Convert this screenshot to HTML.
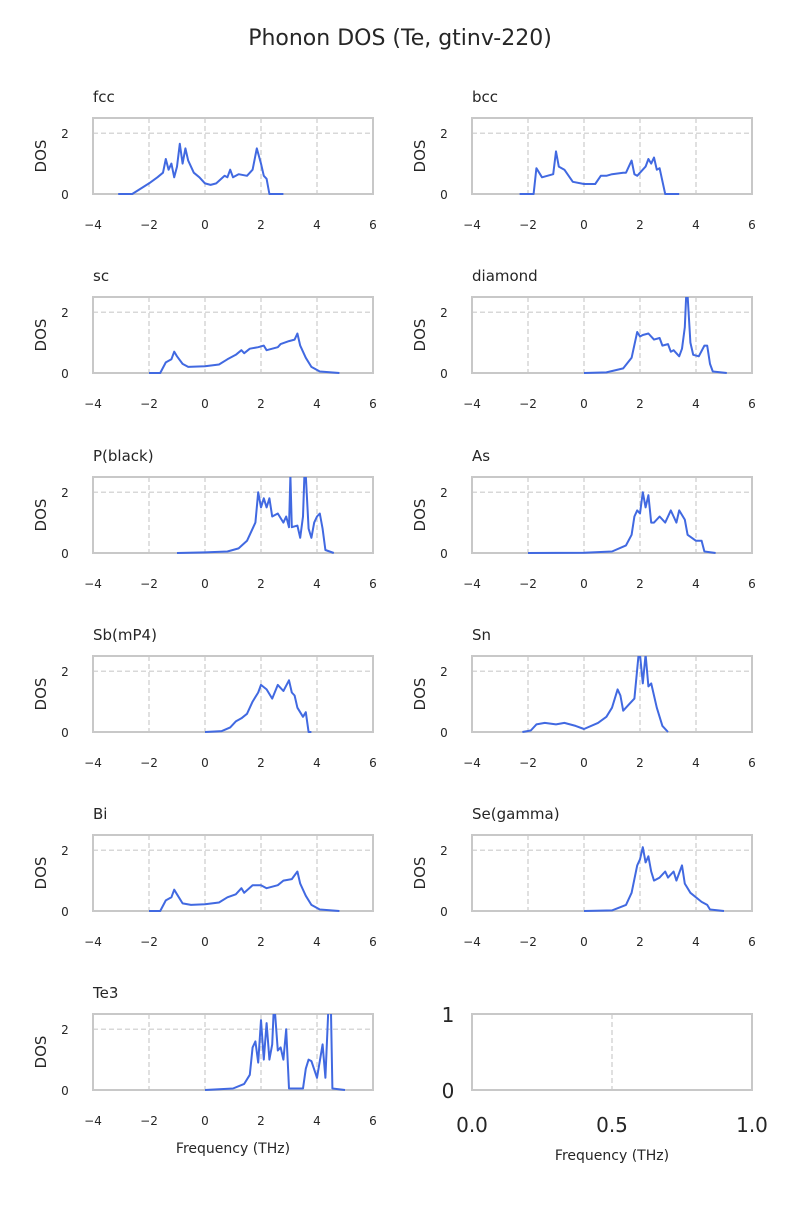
<!DOCTYPE html>
<html><head><meta charset="utf-8"><style>
body{margin:0;background:#fff;font-family:"Liberation Sans","DejaVu Sans",sans-serif}
svg text{font-family:"DejaVu Sans","Liberation Sans",sans-serif;fill:#262626}
</style></head><body>
<svg id="fig" width="800" height="1200" xmlns="http://www.w3.org/2000/svg">
<text x="400" y="45" text-anchor="middle" font-size="22">Phonon DOS (Te, gtinv-220)</text>
</svg>
<script>
const names=["fcc","bcc","sc","diamond","P(black)","As","Sb(mP4)","Sn","Bi","Se(gamma)","Te3"];
const xTicks=[-4,-2,0,2,4,6];
const yTicks=[0,2];
const fcc_f=[-3.1,-2.6,-2,-1.7,-1.5,-1.4,-1.3,-1.2,-1.1,-1.0,-0.9,-0.8,-0.7,-0.6,-0.4,-0.2,0,0.2,0.4,0.7,0.8,0.9,1.0,1.2,1.5,1.7,1.85,2.0,2.1,2.2,2.3,2.8];
const fcc_d=[0,0,0.35,0.55,0.7,1.15,0.8,1.0,0.55,0.9,1.65,1.0,1.5,1.1,0.7,0.55,0.35,0.3,0.35,0.6,0.55,0.8,0.55,0.65,0.6,0.8,1.5,1.0,0.6,0.5,0,0];
const bcc_f=[-2.3,-1.8,-1.7,-1.5,-1.1,-1.0,-0.9,-0.7,-0.4,0,0.4,0.6,0.8,1.0,1.4,1.5,1.7,1.8,1.9,2.2,2.3,2.4,2.5,2.6,2.7,2.9,3.4];
const bcc_d=[0,0,0.85,0.55,0.65,1.4,0.9,0.8,0.4,0.33,0.33,0.6,0.6,0.65,0.7,0.7,1.1,0.65,0.6,0.9,1.15,1.0,1.2,0.8,0.85,0,0];
const sc_f=[-2,-1.6,-1.4,-1.2,-1.1,-1.0,-0.8,-0.6,0,0.5,0.8,1.1,1.3,1.4,1.6,1.9,2.1,2.2,2.6,2.7,3.0,3.2,3.3,3.4,3.6,3.8,4.1,4.8];
const sc_d=[0,0,0.35,0.45,0.7,0.55,0.3,0.2,0.22,0.28,0.45,0.6,0.75,0.65,0.8,0.85,0.9,0.75,0.85,0.95,1.05,1.1,1.3,0.9,0.5,0.2,0.05,0];
const dia_f=[0,0.8,1.4,1.7,1.9,2.0,2.1,2.3,2.5,2.7,2.8,3.0,3.1,3.2,3.4,3.5,3.6,3.65,3.7,3.8,3.9,4.1,4.3,4.4,4.5,4.6,5.1];
const dia_d=[0,0.02,0.15,0.5,1.35,1.2,1.25,1.3,1.1,1.15,0.9,0.95,0.7,0.75,0.55,0.8,1.5,2.6,2.6,1.0,0.6,0.55,0.9,0.9,0.3,0.05,0];
const pb_f=[-1,0,0.8,1.2,1.5,1.8,1.9,2.0,2.1,2.2,2.3,2.4,2.6,2.8,2.9,3.0,3.05,3.1,3.3,3.4,3.5,3.55,3.6,3.7,3.8,3.9,4.0,4.1,4.2,4.3,4.6];
const pb_d=[0,0.02,0.05,0.15,0.4,1.0,2.0,1.5,1.8,1.5,1.8,1.2,1.3,1.0,1.2,0.85,2.6,0.85,0.9,0.5,1.2,2.6,2.6,0.8,0.5,1.0,1.2,1.3,0.8,0.1,0];
const as_f=[-2,0,1.0,1.5,1.7,1.8,1.9,2.0,2.1,2.2,2.3,2.4,2.5,2.7,2.9,3.1,3.2,3.3,3.4,3.6,3.7,4.0,4.2,4.3,4.7];
const as_d=[0,0.01,0.05,0.25,0.6,1.2,1.4,1.3,2.0,1.5,1.9,1.0,1.0,1.2,1.0,1.4,1.2,1.0,1.4,1.1,0.6,0.4,0.4,0.05,0];
const sb_f=[0,0.6,0.9,1.1,1.3,1.5,1.7,1.9,2.0,2.2,2.4,2.6,2.8,3.0,3.1,3.2,3.3,3.5,3.6,3.7,3.8];
const sb_d=[0,0.03,0.15,0.35,0.45,0.6,1.0,1.3,1.55,1.4,1.1,1.55,1.35,1.7,1.3,1.2,0.8,0.5,0.65,0,0];
const sn_f=[-2.2,-1.9,-1.7,-1.4,-1.0,-0.7,-0.3,0,0.5,0.8,1.0,1.2,1.3,1.4,1.6,1.8,1.95,2.0,2.1,2.2,2.3,2.4,2.6,2.8,3.0];
const sn_d=[0,0.05,0.25,0.3,0.25,0.3,0.2,0.1,0.3,0.5,0.8,1.4,1.2,0.7,0.9,1.1,2.6,2.6,1.6,2.6,1.5,1.6,0.8,0.2,0];
const bi_f=[-2,-1.6,-1.4,-1.2,-1.1,-1.0,-0.8,-0.5,0,0.5,0.8,1.1,1.3,1.4,1.7,2.0,2.2,2.6,2.8,3.1,3.3,3.4,3.6,3.8,4.1,4.8];
const bi_d=[0,0,0.35,0.45,0.7,0.55,0.25,0.2,0.22,0.28,0.45,0.55,0.75,0.6,0.85,0.85,0.75,0.85,1.0,1.05,1.3,0.9,0.5,0.2,0.05,0];
const se_f=[0,1.0,1.5,1.7,1.9,2.0,2.1,2.2,2.3,2.4,2.5,2.7,2.9,3.0,3.2,3.3,3.5,3.6,3.8,4.2,4.4,4.5,5.0];
const se_d=[0,0.02,0.2,0.6,1.5,1.7,2.1,1.6,1.8,1.3,1.0,1.1,1.3,1.1,1.3,1.0,1.5,0.9,0.6,0.3,0.2,0.05,0];
const te_f=[0,1.0,1.4,1.6,1.7,1.8,1.9,2.0,2.1,2.2,2.3,2.4,2.45,2.5,2.6,2.7,2.8,2.9,3.0,3.5,3.6,3.7,3.8,4.0,4.2,4.3,4.4,4.5,4.55,5.0];
const te_d=[0,0.05,0.2,0.5,1.4,1.6,0.9,2.3,1.0,2.2,1.0,1.5,2.6,2.6,1.3,1.4,1.0,2.0,0.05,0.05,0.7,1.0,0.95,0.4,1.5,0.4,2.6,2.6,0.05,0];
const freqs=[fcc_f,bcc_f,sc_f,dia_f,pb_f,as_f,sb_f,sn_f,bi_f,se_f,te_f];
const dos=[fcc_d,bcc_d,sc_d,dia_d,pb_d,as_d,sb_d,sn_d,bi_d,se_d,te_d];

const svg=document.getElementById('fig');
const NS="http://www.w3.org/2000/svg";
function mk(t,a,p){const e=document.createElementNS(NS,t);for(const k in a)e.setAttribute(k,a[k]);(p||svg).appendChild(e);return e;}
const colX=[93,472],W=280,H=76,rowTop=[118,297,477,656,835,1014];
for(let i=0;i<12;i++){
  const x0=colX[i%2],y0=rowTop[Math.floor(i/2)];
  const g=mk('g',{});
  
  
  if(i===11){
    mk('line',{x1:x0+W/2,x2:x0+W/2,y1:y0,y2:y0+H,stroke:'#ccc','stroke-dasharray':'5,3','stroke-width':1.2},g);
    mk('rect',{x:x0,y:y0,width:W,height:H,fill:'none',stroke:'#c8c8c8','stroke-width':2},g);
    [["0.0",0],["0.5",0.5],["1.0",1]].forEach(([s,v])=>{const t=mk('text',{x:x0+v*W,y:y0+H+42,'text-anchor':'middle','font-size':20},g);t.textContent=s;});
    [["0",0],["1",1]].forEach(([s,v])=>{const t=mk('text',{x:x0-24,y:y0+H-v*H+8,'text-anchor':'middle','font-size':20},g);t.textContent=s;});
    const t=mk('text',{x:x0+W/2,y:y0+H+70,'text-anchor':'middle','font-size':14},g);t.textContent='Frequency (THz)';
    continue;
  }
  const sx=f=>x0+(f+4)/10*W, sy=d=>y0+H-Math.min(d,2.55)/2.5*H;
  xTicks.slice(1,-1).forEach(v=>mk('line',{x1:sx(v),x2:sx(v),y1:y0,y2:y0+H,stroke:'#ccc','stroke-dasharray':'5,3','stroke-width':1.2},g));
  mk('line',{x1:x0,x2:x0+W,y1:sy(2),y2:sy(2),stroke:'#ccc','stroke-dasharray':'5,3','stroke-width':1.2},g);
  mk('rect',{x:x0,y:y0,width:W,height:H,fill:'none',stroke:'#c8c8c8','stroke-width':2},g);
  const cp=mk('clipPath',{id:'c'+i},g);mk('rect',{x:x0,y:y0,width:W,height:H+1},cp);
  const pts=freqs[i].map((f,k)=>sx(f).toFixed(1)+','+sy(dos[i][k]).toFixed(1)).join(' ');
  const pl=mk('polyline',{points:pts,fill:'none',stroke:'#4169e1','stroke-width':2,'stroke-linejoin':'round','clip-path':'url(#c'+i+')'},g);
  
  
  xTicks.forEach(v=>{const t=mk('text',{x:sx(v),y:y0+H+35,'text-anchor':'middle','font-size':12},g);t.textContent=v<0?'\u2212'+(-v):String(v);});
  yTicks.forEach(v=>{const t=mk('text',{x:x0-28,y:sy(v)+5,'text-anchor':'middle','font-size':12},g);t.textContent=v;});
  const yl=mk('text',{x:0,y:0,'text-anchor':'middle','font-size':15,transform:`translate(${x0-47},${y0+H/2}) rotate(-90)`},g);yl.textContent='DOS';
  const tt=mk('text',{x:x0,y:y0-16,'font-size':15},g);tt.textContent=names[i];
  if(i===10){const t=mk('text',{x:x0+W/2,y:y0+H+63,'text-anchor':'middle','font-size':14},g);t.textContent='Frequency (THz)';}
}
</script>
</body></html>
